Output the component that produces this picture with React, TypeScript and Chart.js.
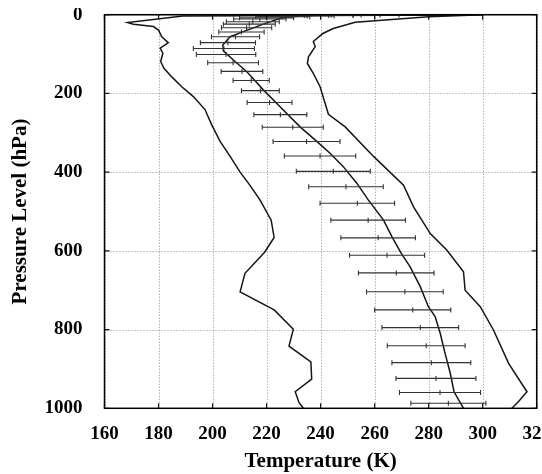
import React, { useEffect, useRef } from "react";
import { Chart, registerables } from "chart.js";

Chart.register(...registerables);

// Axis ranges / ticks
const tempTicks = [160, 180, 200, 220, 240, 260, 280, 300, 320];
const pressureTicks = [0, 200, 400, 600, 800, 1000];

// Minimum envelope (left curve)
const minPressure = [0.5, 3.3, 20, 24, 30, 39, 56, 71, 85, 98, 119, 136, 158, 183, 208, 241, 280, 322, 360, 400, 435, 471, 522, 566, 604, 657, 704, 750, 799, 842, 882, 926, 958, 985, 1000];
const minTemp = [292, 189, 168.6, 170.7, 178.1, 180, 181.2, 183.6, 180.6, 181.6, 180.8, 182, 184.9, 188.6, 192.9, 197.2, 199.7, 202.8, 206.5, 210.2, 214, 217.6, 221.7, 222.8, 219.2, 212, 210.2, 222.8, 229.9, 228.3, 236.4, 236.7, 230.6, 232, 233.6];

// Mean profile (middle curve)
const meanPressure = [0.2, 1.5, 6.6, 24, 43, 56, 77, 92, 115, 145, 191, 234, 285, 322, 352, 386, 428, 471, 522, 564, 606, 640, 691, 742, 767, 810, 861, 911, 958, 1000];
const meanTemp = [300, 238, 226.2, 218.8, 211.4, 206.5, 203.8, 204, 207.7, 212.7, 218.8, 225, 232.4, 238.6, 243.5, 248.4, 253.4, 257.7, 263.3, 266.4, 269.8, 273.1, 276.9, 279.9, 282.4, 284.3, 286.1, 288, 289.4, 292.9];

// Maximum envelope (right curve)
const maxPressure = [0, 5, 19, 35, 47, 68, 81, 107, 124, 149, 183, 253, 285, 360, 433, 488, 556, 598, 653, 700, 742, 801, 886, 958, 983, 1000];
const maxTemp = [300, 280, 252.8, 244.7, 241, 237.3, 238, 235.5, 235.1, 237.3, 239.8, 242.9, 249.1, 259.6, 270.7, 274.4, 280.6, 286.7, 292.9, 293.5, 299.1, 304, 309.6, 316.4, 313.3, 310.8];

// Error bars: level, mean, standard deviation
const obsPressure = [0.5, 1, 2, 3, 5, 8, 11, 18, 24, 33, 44, 56, 71, 86, 101, 122, 144, 167, 193, 223, 254, 286, 322, 359, 398, 437, 479, 522, 567, 611, 656, 704, 750, 795, 841, 884, 924, 960, 987];
const obsMean = [262, 252, 243, 235, 226, 220, 217.5, 214.9, 213.6, 212.6, 210.7, 208.5, 205.7, 204.2, 205, 207.6, 210.9, 214.3, 217.7, 221.1, 225.1, 229.7, 234.8, 239.8, 244.7, 249.4, 253.6, 257.6, 261.3, 264.6, 268, 271.2, 274.1, 276.9, 279.1, 281, 282.7, 284.2, 287.3];
const obsStd = [7, 8, 9, 10, 10, 10, 9.7, 9.8, 9.6, 9.3, 8.4, 8.9, 10.2, 11.3, 11, 9.4, 7.7, 6.7, 7, 8.3, 9.8, 11.3, 12.4, 13.2, 13.7, 13.8, 13.8, 13.8, 13.8, 13.9, 14, 14.2, 14.1, 14.2, 14.4, 14.6, 14.8, 15, 13.9];

const toPoints = (t: number[], p: number[]) => t.map((v, i) => ({ x: v, y: p[i] }));

const FONT = "'Liberation Serif', 'Times New Roman', serif";

const overlayPlugin = {
  id: "overlay",
  beforeDatasetsDraw(chart: any) {
    const { ctx, chartArea: a, scales } = chart;
    const x = scales.x;
    const y = scales.y;
    ctx.save();
    ctx.strokeStyle = "#8c8c8c";
    ctx.lineWidth = 1;
    ctx.setLineDash([1, 2]);
    ctx.beginPath();
    x.ticks.forEach((t: any) => {
      const px = Math.round(x.getPixelForValue(t.value)) + 0.5;
      ctx.moveTo(px, a.top);
      ctx.lineTo(px, a.bottom);
    });
    y.ticks.forEach((t: any) => {
      const py = Math.round(y.getPixelForValue(t.value)) + 0.5;
      ctx.moveTo(a.left, py);
      ctx.lineTo(a.right, py);
    });
    ctx.stroke();
    ctx.restore();
  },
  afterDatasetsDraw(chart: any) {
    const { ctx, chartArea: a, scales } = chart;
    const x = scales.x;
    const y = scales.y;
    ctx.save();
    ctx.beginPath();
    ctx.rect(a.left, a.top, a.right - a.left, a.bottom - a.top);
    ctx.clip();
    ctx.strokeStyle = "#333";
    ctx.lineWidth = 1.1;
    obsPressure.forEach((p, i) => {
      const py = y.getPixelForValue(p);
      const xl = x.getPixelForValue(obsMean[i] - obsStd[i]);
      const xc = x.getPixelForValue(obsMean[i]);
      const xr = x.getPixelForValue(obsMean[i] + obsStd[i]);
      ctx.beginPath();
      ctx.moveTo(xl, py);
      ctx.lineTo(xr, py);
      for (const xx of [xl, xc, xr]) {
        ctx.moveTo(xx, py - 2.5);
        ctx.lineTo(xx, py + 2.5);
      }
      ctx.stroke();
    });
    ctx.restore();
  },
  afterDraw(chart: any) {
    const { ctx, chartArea: a, scales } = chart;
    const x = scales.x;
    const y = scales.y;
    ctx.save();
    ctx.strokeStyle = "#111";
    ctx.lineWidth = 1.2;
    ctx.beginPath();
    const tl = 5;
    x.ticks.forEach((t: any) => {
      const px = x.getPixelForValue(t.value);
      ctx.moveTo(px, a.bottom);
      ctx.lineTo(px, a.bottom - tl);
      ctx.moveTo(px, a.top);
      ctx.lineTo(px, a.top + tl);
    });
    y.ticks.forEach((t: any) => {
      const py = y.getPixelForValue(t.value);
      ctx.moveTo(a.left, py);
      ctx.lineTo(a.left + tl, py);
      ctx.moveTo(a.right, py);
      ctx.lineTo(a.right - tl, py);
    });
    ctx.stroke();
    ctx.lineWidth = 1.5;
    ctx.strokeStyle = "#000";
    ctx.strokeRect(a.left, a.top, a.right - a.left, a.bottom - a.top);
    ctx.restore();
  },
};

export default function App() {
  const ref = useRef<HTMLCanvasElement | null>(null);

  useEffect(() => {
    if (!ref.current) return;
    const lineStyle = {
      showLine: true,
      pointRadius: 0,
      borderColor: "#151515",
      borderWidth: 1.5,
      tension: 0,
      fill: false,
    };
    const chart = new Chart(ref.current, {
      type: "scatter",
      data: {
        datasets: [
          { label: "Minimum", data: toPoints(minTemp, minPressure), ...lineStyle },
          { label: "Mean", data: toPoints(meanTemp, meanPressure), ...lineStyle },
          { label: "Maximum", data: toPoints(maxTemp, maxPressure), ...lineStyle },
        ],
      },
      options: {
        animation: false,
        responsive: false,
        devicePixelRatio: 1,
        layout: { padding: { left: 0, right: 31.3, top: 6.7, bottom: 0 } },
        plugins: {
          legend: { display: false },
          tooltip: { enabled: false },
        },
        scales: {
          x: {
            type: "linear",
            min: tempTicks[0],
            max: tempTicks[tempTicks.length - 1],
            afterBuildTicks: (s: any) => {
              s.ticks = tempTicks.map((v) => ({ value: v }));
            },
            ticks: {
              autoSkip: false,
              maxRotation: 0,
              padding: 6,
              color: "#000",
              callback: (v: any) => String(v),
              font: { family: FONT, size: 19, weight: "bold" },
            },
            grid: { display: false },
            border: { display: false },
            title: {
              display: true,
              text: "Temperature (K)",
              color: "#000",
              padding: { top: 0, bottom: 0 },
              font: { family: FONT, size: 21, weight: "bold" },
            },
            afterFit: (s: any) => {
              s.height = 65.7;
              s.paddingLeft = 0;
              s.paddingRight = 0;
            },
          },
          y: {
            type: "linear",
            reverse: true,
            min: pressureTicks[0],
            max: pressureTicks[pressureTicks.length - 1],
            afterBuildTicks: (s: any) => {
              s.ticks = pressureTicks.map((v) => ({ value: v }));
            },
            ticks: {
              autoSkip: false,
              padding: 14,
              color: "#000",
              callback: (v: any) => String(v),
              font: { family: FONT, size: 19, weight: "bold" },
            },
            grid: { display: false },
            border: { display: false },
            title: {
              display: true,
              text: "Pressure Level (hPa)",
              color: "#000",
              padding: { top: 0, bottom: 0 },
              font: { family: FONT, size: 21, weight: "bold" },
            },
            afterFit: (s: any) => {
              s.width = 96.5;
              s.paddingTop = 0;
              s.paddingBottom = 0;
            },
          },
        },
      },
      plugins: [overlayPlugin],
    } as any);
    return () => chart.destroy();
  }, []);

  return (
    <div
      style={{
        position: "fixed",
        left: 8,
        top: 8,
        width: 534,
        height: 466,
        overflow: "hidden",
        background: "#fff",
      }}
    >
      <canvas ref={ref} width={560} height={466} style={{ display: "block" }} />
    </div>
  );
}
